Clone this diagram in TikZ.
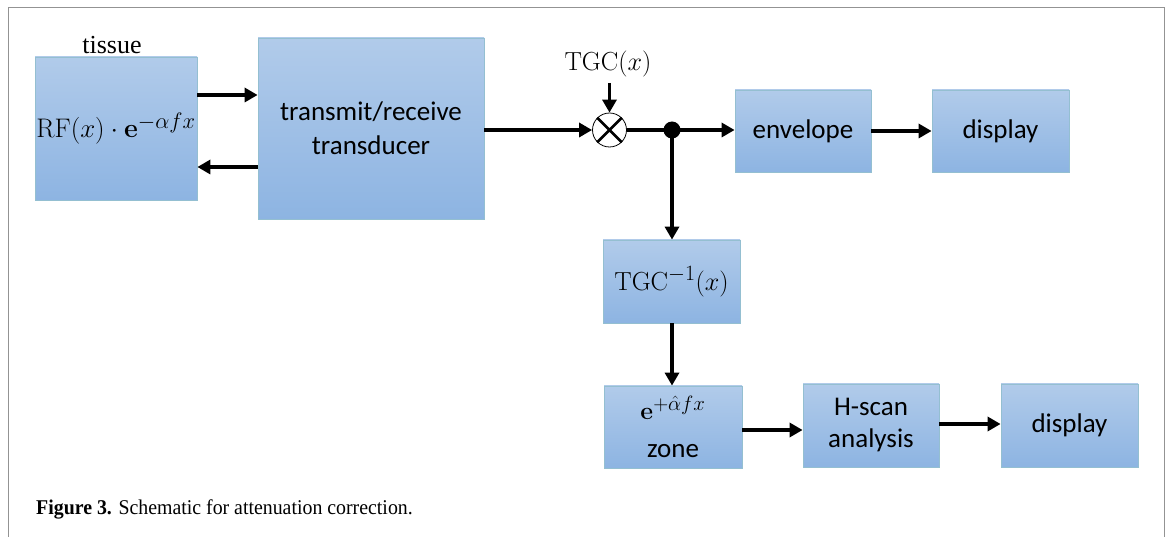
\documentclass[tikz,border=0pt]{standalone}
\usepackage[no-math]{fontspec}
\newfontfamily\boxfont{Carlito}
\newfontfamily\serifcap{Liberation Serif}
\usetikzlibrary{arrows.meta}

\tikzset{
  blk/.style={draw=blue!30!cyan!40!gray!60, line width=0.8pt,
    top color={rgb,255:red,177;green,203;blue,234},
    bottom color={rgb,255:red,141;green,180;blue,226},
    inner sep=0pt, align=center,
    font=\boxfont\fontsize{27}{33}\selectfont},
  arr/.style={line width=3.6pt, -{Triangle[length=13pt,width=14pt]}},
  wire/.style={line width=3.6pt},
  mathtxt/.style={font=\Huge},
}

\begin{document}
\begin{tikzpicture}[x=1pt,y=-1pt]
\useasboundingbox (0,0) rectangle (1168,537);
% figure frame, open at the bottom
\draw[line width=1.6pt, gray!85] (8.5,537) -- (8.5,7.5) -- (1164.5,7.5) -- (1164.5,537);

% blocks
\node[blk, minimum width=162, minimum height=143] (tissue) at (116,128.5)
  {\Huge\scalebox{1.08}{$\mathrm{RF}(x)\cdot\mathbf{e}^{-\alpha f x}$}};
\node[font=\serifcap\fontsize{26}{30}\selectfont] (tlabel) at (112,45) {tissue};
\node[blk, minimum width=226, minimum height=181] (trans) at (371,128.5)
  {transmit/receive\\[1pt]transducer};
\node[draw, circle, line width=0.8pt, minimum size=34, inner sep=0pt] (mult) at (609.5,130) {};
\draw[line width=2.6pt] (mult.north west) -- (mult.south east)
                        (mult.north east) -- (mult.south west);
\node[mathtxt] (tgc) at (608,64) {\scalebox{1.05}{$\mathrm{TGC}(x)$}};
\node[fill, circle, minimum size=17, inner sep=0pt] (dot) at (672,130) {};
\node[blk, minimum width=136, minimum height=82] (env) at (803,131) {envelope};
\node[blk, minimum width=137, minimum height=82] (disp1) at (1000.5,131) {display};
\node[blk, minimum width=137, minimum height=83, mathtxt] (inv) at (671.5,281.5)
  {\scalebox{1.05}{$\mathrm{TGC}^{-1}(x)$}};
\node[blk, minimum width=138, minimum height=82] (zone) at (673,427)
  {{\Huge$\mathbf{e}^{+\hat{\alpha} f x}$}\\[5pt]zone};
\node[blk, minimum width=136, minimum height=83] (hscan) at (871,425.5)
  {H-scan\\[-1pt]analysis};
\node[blk, minimum width=137, minimum height=83] (disp2) at (1069.5,425.5) {display};

% connectors
\draw[arr] (tissue.east |- 0,95) -- (trans.west |- 0,95);
\draw[arr] (trans.west |- 0,167) -- (tissue.east |- 0,167);
\draw[arr] (trans.east |- mult) -- (mult.west);
\coordinate (tgcs) at (mult |- 0,83);
\draw[arr] (tgcs) -- (mult.north);
\draw[wire] (mult.east) -- (dot.center);
\draw[arr] (dot.center) -- (env.west |- dot);
\draw[arr] (env.east) -- (disp1.west);
\draw[arr] (dot.center) -- (inv.north -| dot);
\draw[arr] (inv.south -| dot) -- (zone.north -| dot);
\draw[arr] (zone.east |- 0,430) -- (hscan.west |- 0,430);
\draw[arr] (hscan.east |- 0,424) -- (disp2.west |- 0,424);

% caption
\node[anchor=base west, inner sep=0pt, font=\serifcap\fontsize{21}{24}\selectfont] (cap) at (36,514)
  {\scalebox{0.945}[1]{\textbf{Figure~3.} Schematic for attenuation correction.}};
\end{tikzpicture}
\end{document}
